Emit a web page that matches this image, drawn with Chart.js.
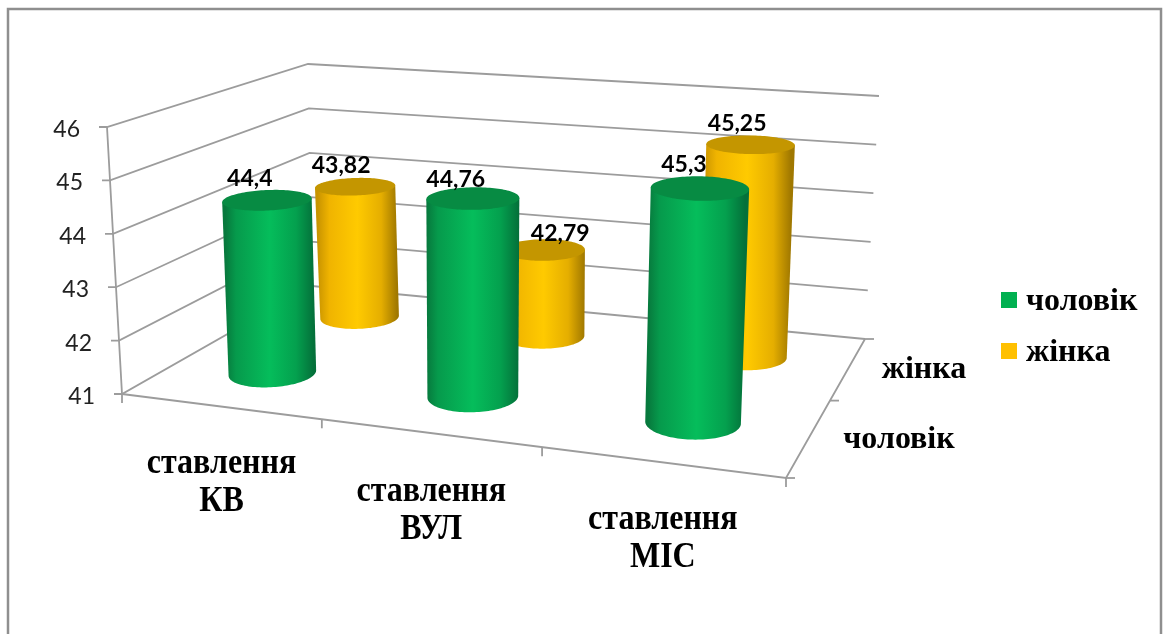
<!DOCTYPE html>
<html lang="uk">
<head>
<meta charset="utf-8">
<title>ставлення</title>
<script src="https://cdn.jsdelivr.net/npm/chart.js@4"></script>
<style>
  html, body { margin: 0; padding: 0; background: #fff; }
  canvas { display: block; }
</style>
</head>
<body>
<canvas id="chart" width="1163" height="634"></canvas>
<script>
// Data
const categories = [['ставлення', 'КВ'], ['ставлення', 'ВУЛ'], ['ставлення', 'МІС']];
const menValues = [44.4, 44.76, 45.3];
const womenValues = [43.82, 42.79, 45.25];
const seriesNames = ['чоловік', 'жінка'];
const yTicks = [41, 42, 43, 44, 45, 46];

// Box of the 3D chart on screen: [front-left, front-right, back-right, back-left]
const floorQuad = [[122, 394], [786, 478], [865, 339], [312, 286]];
const roofQuad = [[107, 127], [804, 190], [879, 96], [308, 64]];
// The cylinders do not follow the walls exactly, they have their own upper plane
const barRoofQuad = [[107, 132], [804, 190], [879, 96], [308, 69]];
const barLean = 24;
const rowDepth = [0.25, 0.75];
const depthRadius = 0.11;

const serif = '"Liberation Serif", serif';
const sans = 'Lato, "Open Sans", sans-serif';
const gridColor = '#9c9c9c';

// Homography of the unit square on a quad
function makeHomography(q) {
  const [p0, p1, p2, p3] = q;
  const dx1 = p1[0] - p2[0], dx2 = p3[0] - p2[0], sx = p0[0] - p1[0] + p2[0] - p3[0];
  const dy1 = p1[1] - p2[1], dy2 = p3[1] - p2[1], sy = p0[1] - p1[1] + p2[1] - p3[1];
  const det = dx1 * dy2 - dx2 * dy1;
  const g = (sx * dy2 - dx2 * sy) / det;
  const h = (dx1 * sy - sx * dy1) / det;
  const a = p1[0] - p0[0] + g * p1[0], b = p3[0] - p0[0] + h * p3[0];
  const d = p1[1] - p0[1] + g * p1[1], e = p3[1] - p0[1] + h * p3[1];
  return (u, v) => {
    const w = g * u + h * v + 1;
    return [(a * u + b * v + p0[0]) / w, (d * u + e * v + p0[1]) / w];
  };
}
const floorMap = makeHomography(floorQuad);
const roofMap = makeHomography(roofQuad);
const barRoofMap = makeHomography(barRoofQuad);

// u: along categories, d: along depth, h: 0 on the floor, 1 at the top of the y axis
function project(u, d, h) {
  const a = floorMap(u, d), b = roofMap(u, d);
  return [a[0] + (b[0] - a[0]) * h, a[1] + (b[1] - a[1]) * h];
}

function projectBar(u, d, h) {
  const a = floorMap(u, d), b = barRoofMap(u, d);
  return [a[0] + 2 + h * barLean * (u - 0.5), a[1] - 1 + (b[1] - a[1]) * h];
}

function toUnit(chart, x, y) {
  const area = chart.chartArea;
  return [(x - area.left) / area.width, (area.bottom - y) / area.height];
}

function line(ctx, pts) {
  ctx.beginPath();
  pts.forEach((p, i) => i ? ctx.lineTo(p[0], p[1]) : ctx.moveTo(p[0], p[1]));
  ctx.stroke();
}

// The category labels are a little taller in the original
function tallText(ctx, text, x, y) {
  ctx.save();
  ctx.translate(x, y);
  ctx.scale(1, 1.12);
  ctx.fillText(text, 0, 0);
  ctx.restore();
}

function drawCylinder(ctx, uc, dc, ru, hTop, hBase, stops, topColor) {
  const steps = 120;
  const top = [], bottom = [];
  for (let i = 0; i < steps; i++) {
    const t = i / steps * Math.PI * 2;
    const u = uc + ru * Math.cos(t), d = dc + depthRadius * Math.sin(t);
    top.push(projectBar(u, d, hTop));
    bottom.push(projectBar(u, d, hBase));
  }
  const extreme = (pts, sign) => pts.reduce((best, p, i) => sign * p[0] > sign * pts[best][0] ? i : best, 0);
  const iL = extreme(bottom, -1), iR = extreme(bottom, 1);
  const tL = extreme(top, -1), tR = extreme(top, 1);

  ctx.beginPath();
  ctx.moveTo(top[tL][0], top[tL][1]);
  for (let i = iL; ; i = (i + 1) % steps) {
    ctx.lineTo(bottom[i][0], bottom[i][1]);
    if (i === iR) break;
  }
  ctx.lineTo(top[tR][0], top[tR][1]);
  ctx.closePath();
  const grad = ctx.createLinearGradient((top[tL][0] + bottom[iL][0]) / 2, 0, (top[tR][0] + bottom[iR][0]) / 2, 0);
  stops.forEach(s => grad.addColorStop(s[0], s[1]));
  ctx.fillStyle = grad;
  ctx.fill();

  ctx.beginPath();
  top.forEach((p, i) => i ? ctx.lineTo(p[0], p[1]) : ctx.moveTo(p[0], p[1]));
  ctx.closePath();
  ctx.fillStyle = topColor;
  ctx.fill();
}

const bodyStops = [
  [[0, '#07793d'], [0.12, '#069a4c'], [0.5, '#05bd5b'], [0.8, '#04a04e'], [1, '#04703a']],
  [[0, '#c99400'], [0.15, '#f0b400'], [0.5, '#ffca00'], [0.8, '#e5ae00'], [1, '#a07800']]
];
const topColors = ['#078b43', '#c49600'];
// Value labels were placed by hand in the original, one offset per label
const labelDx = [[-38, -34, -28], [-31, 3, -23]];
const labelDy = [[-4, -1, -5], [-5, 1, -5]];

const box3d = {
  id: 'box3d',
  // Frame, walls, grid lines, axes with their labels
  beforeDatasetsDraw(chart) {
    const ctx = chart.ctx;
    const y = chart.scales.y;
    ctx.save();
    ctx.strokeStyle = '#8f8f8f';
    ctx.lineWidth = 2.5;
    line(ctx, [[8, 640], [8, 9], [1161, 9], [1161, 640]]);

    ctx.strokeStyle = gridColor;
    ctx.lineWidth = 1.8;
    yTicks.forEach(v => {
      const h = toUnit(chart, 0, y.getPixelForValue(v))[1];
      const front = project(0, 0, h);
      line(ctx, [[front[0] - 8, front[1]], front, project(0, 1, h), project(1, 1, h)]);
      ctx.fillStyle = '#222';
      ctx.font = '23px ' + sans;
      ctx.textAlign = 'right';
      ctx.textBaseline = 'alphabetic';
      ctx.fillText(String(v), front[0] - 27, front[1] + 10);
    });
    // Vertical axis and floor edges
    line(ctx, [project(0, 0, 1), project(0, 0, 0), [floorQuad[0][0], floorQuad[0][1] + 9]]);
    line(ctx, [project(0, 0, 0), project(1, 0, 0), project(1, 1, 0)]);

    // Tick marks of the category axis and its labels
    const labelY = [473, 501, 529];
    categories.forEach((c, i) => {
      const p = project((i + 1) / categories.length, 0, 0);
      line(ctx, [p, [p[0], p[1] + 9]]);
      const mid = project((i + 0.5) / categories.length, 0, 0);
      ctx.fillStyle = '#000';
      ctx.font = 'bold 32px ' + serif;
      ctx.textAlign = 'center';
      tallText(ctx, c[0], mid[0] + 2, labelY[i]);
      tallText(ctx, c[1], mid[0] + 2, labelY[i] + 38);
    });

    // Depth axis ticks and its labels
    [0, 0.5, 1].forEach(d => {
      const p = project(1, d, 0);
      line(ctx, [p, [p[0] + 9, p[1]]]);
    });
    ctx.font = 'bold 32px ' + serif;
    ctx.textAlign = 'center';
    ctx.fillText(seriesNames[0], 899, 448);
    ctx.fillText(seriesNames[1], 924, 378);

    // Legend
    chart.data.datasets.forEach((ds, i) => {
      const top = 292 + i * 51;
      ctx.fillStyle = ds.backgroundColor;
      ctx.fillRect(1001, top, 16, 16);
      ctx.fillStyle = '#000';
      ctx.textAlign = 'left';
      ctx.fillText(ds.label, 1026, top + 18);
    });
    ctx.restore();
  },
  // Replace the flat bars with cylinders
  beforeDatasetDraw(chart, args) {
    const ctx = chart.ctx;
    const i = args.index;
    ctx.save();
    args.meta.data.forEach(bar => {
      const props = bar.getProps(['x', 'y', 'base', 'width'], true);
      const [uc, hTop] = toUnit(chart, props.x, props.y);
      const hBase = toUnit(chart, props.x, props.base)[1];
      const ru = props.width / 2 / chart.chartArea.width;
      drawCylinder(ctx, uc, rowDepth[i], ru, hTop, hBase, bodyStops[i], topColors[i]);
    });
    ctx.restore();
    return false;
  },
  // Value labels over the cylinders
  afterDatasetsDraw(chart) {
    const ctx = chart.ctx;
    ctx.save();
    ctx.fillStyle = '#000';
    ctx.font = 'bold 23px ' + sans;
    ctx.textAlign = 'center';
    chart.data.datasets.forEach((ds, i) => {
      chart.getDatasetMeta(i).data.forEach((bar, j) => {
        const props = bar.getProps(['x', 'y'], true);
        const [uc, hTop] = toUnit(chart, props.x, props.y);
        const p = projectBar(uc, rowDepth[i] + depthRadius, hTop);
        ctx.fillText(String(ds.data[j]).replace('.', ','), p[0] + labelDx[i][j], p[1] + labelDy[i][j]);
      });
    });
    ctx.restore();
  }
};

new Chart(document.getElementById('chart').getContext('2d'), {
  type: 'bar',
  data: {
    labels: categories,
    datasets: [
      { label: seriesNames[0], data: menValues, backgroundColor: '#00b050', base: yTicks[0] },
      { label: seriesNames[1], data: womenValues, backgroundColor: '#ffc000', base: yTicks[0] }
    ]
  },
  options: {
    responsive: false,
    animation: false,
    layout: { padding: { left: 120, right: 300, top: 120, bottom: 150 } },
    datasets: { bar: { grouped: false, categoryPercentage: 1, barPercentage: 0.4 } },
    scales: {
      x: { display: false },
      y: { display: false, min: 41, max: 46 }
    },
    plugins: { legend: { display: false }, tooltip: { enabled: false } }
  },
  plugins: [box3d]
});
</script>
</body>
</html>
